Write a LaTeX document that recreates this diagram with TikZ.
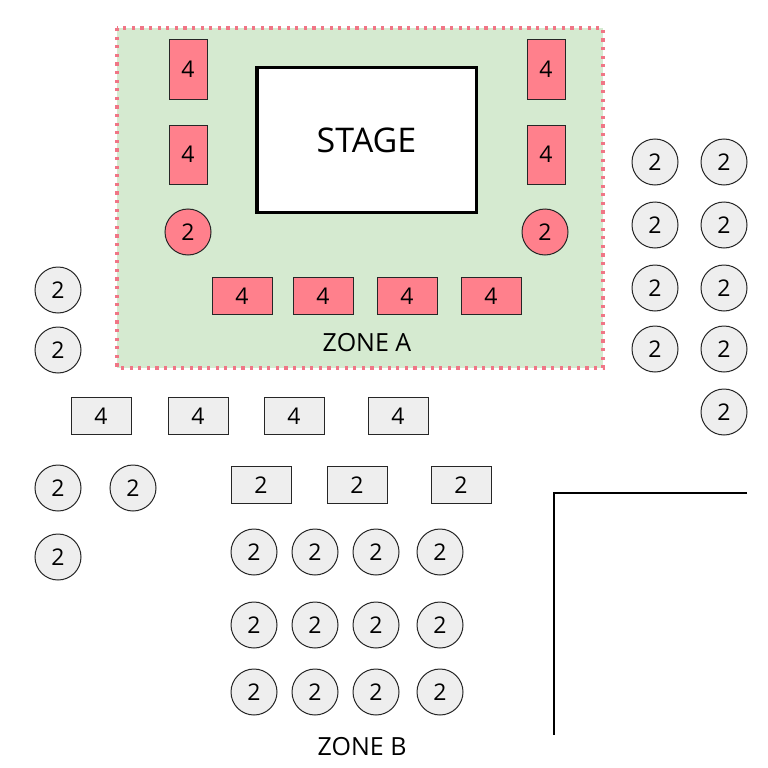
\documentclass[tikz,border=0pt]{standalone}
\usepackage{fontspec}
\setmainfont{Open Sans}
\definecolor{zonegreen}{RGB}{213,234,208}
\definecolor{tablered}{RGB}{255,128,140}
\definecolor{tablegrey}{RGB}{238,238,238}
\definecolor{dotpink}{RGB}{240,118,134}
\begin{document}
\begin{tikzpicture}[x=1pt,y=-1pt,
    seat/.style={draw=black!85,line width=1pt,inner sep=0pt,font=\fontsize{23}{23}\selectfont},
    redtall/.style={seat,fill=tablered,minimum width=38,minimum height=59},
    redbox/.style={seat,fill=tablered,minimum width=60,minimum height=37},
    redround/.style={seat,fill=tablered,circle,minimum size=46},
    greybox/.style={seat,fill=tablegrey,minimum width=60,minimum height=37},
    greyround/.style={seat,fill=tablegrey,circle,minimum size=46},
    zonelabel/.style={font=\fontsize{25}{25}\selectfont}]
    \useasboundingbox (0,0) rectangle (768,768);
    \fill[white] (0,0) rectangle (768,768);
    %\draw[help lines,step=50] (0,0) grid (768,768);
    % zone A
    \draw[fill=zonegreen,draw=dotpink,line width=3.5pt,dash pattern=on 3.2pt off 5.4pt] (117,28) rectangle (603,368);
    \node[draw,line width=3.5pt,fill=white,minimum width=219.5,minimum height=144.5,inner sep=0pt,font=\fontsize{34}{34}\selectfont] (stage) at (366.5,140) {STAGE};
    \foreach \x/\n in {188/l,546/r} {
        \node[redtall] (\n1) at (\x,69.5) {4};
        \node[redtall] (\n2) at (\x,154.5) {4};
    }
    \node[redround] (lc) at (188,232) {2};
    \node[redround] (rc) at (545,232) {2};
    \foreach \x [count=\i] in {242,323,407,491}
        \node[redbox] (a\i) at (\x,296) {4};
    \node[zonelabel] (zoneA) at (367,343) {ZONE A};
    % zone B
    \foreach \x [count=\i] in {101,198,294,398}
        \node[greybox] (f\i) at (\x,416) {4};
    \foreach \x [count=\i] in {261,357,461}
        \node[greybox] (t\i) at (\x,485) {2};
    \foreach \y [count=\j] in {552,625,692}
        \foreach \x [count=\i] in {254,315,376,440}
            \node[greyround] (b\j\i) at (\x,\y) {2};
    \node[zonelabel] (zoneB) at (362,747) {ZONE B};
    % left side
    \foreach \x/\y/\n in {58/290/1,58/350/2,58/488/3,133/488/4,58/557/5}
        \node[greyround] (w\n) at (\x,\y) {2};
    % right side
    \foreach \y [count=\j] in {162,225,288,349}{
        \node[greyround] (e\j1) at (655,\y) {2};
        \node[greyround] (e\j2) at (724,\y) {2};
    }
    \node[greyround] (e52) at (724,412) {2};
    % wall
    \coordinate (corner) at (554,493);
    \coordinate (wallE) at (747,493);
    \coordinate (wallS) at (554,735);
    \draw[line width=2.2pt] (wallE) -- (corner) -- (wallS);
\end{tikzpicture}
\end{document}
